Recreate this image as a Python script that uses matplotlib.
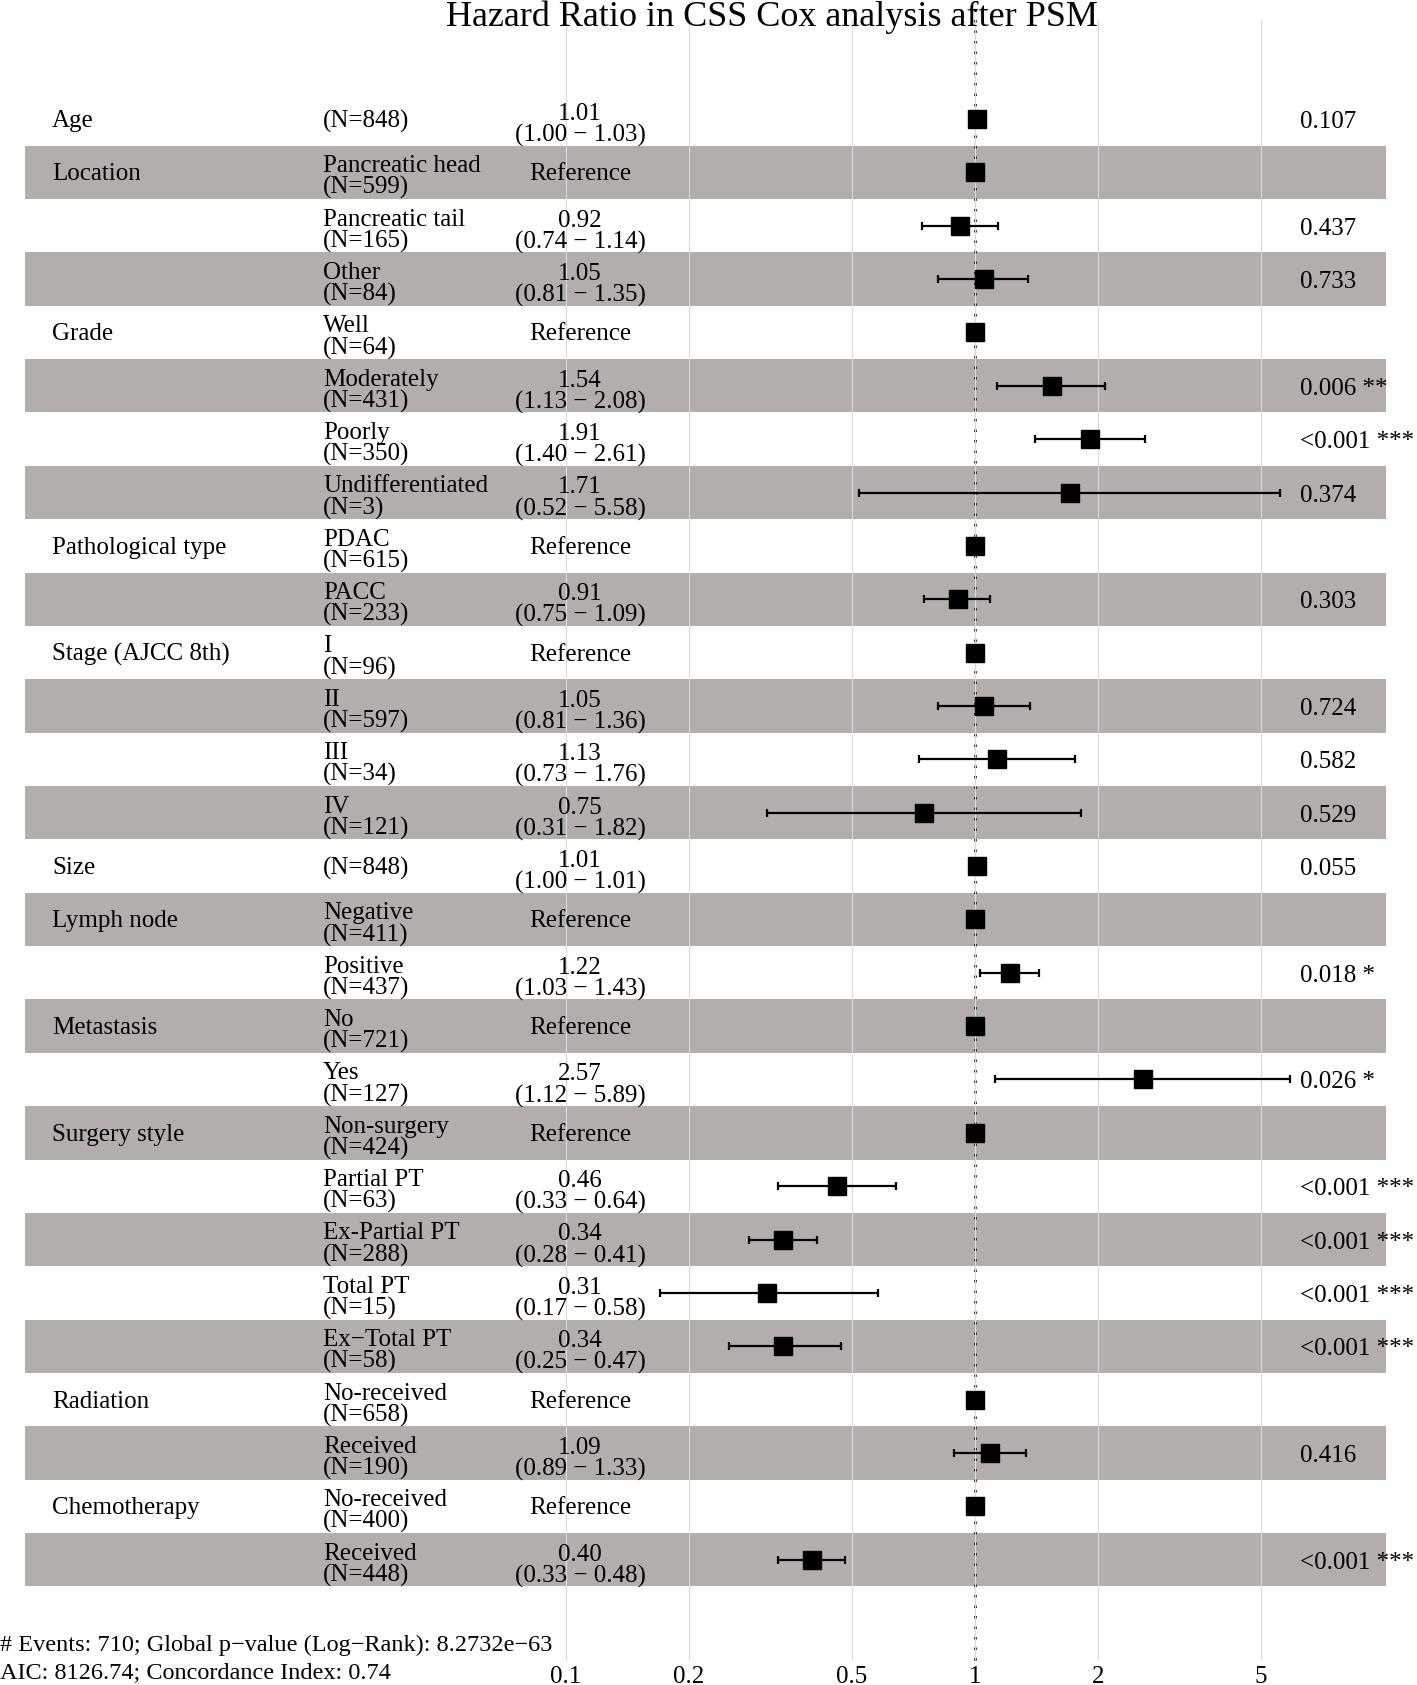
import numpy as np
import matplotlib
matplotlib.use('Agg')
import matplotlib.pyplot as plt

plt.rcParams['font.family'] = ['Liberation Serif', 'DejaVu Serif']

# ________DANE________________________________
variables = ['Age', 'Location', '', '', 'Grade', '', '', '', 'Pathological type', '',
             'Stage (AJCC 8th)', '', '', '', 'Size', 'Lymph node', '', 'Metastasis', '',
             'Surgery style', '', '', '', '', 'Radiation', '', 'Chemotherapy', '']
levels = ['', 'Pancreatic head', 'Pancreatic tail', 'Other', 'Well', 'Moderately', 'Poorly',
          'Undifferentiated', 'PDAC', 'PACC', 'I', 'II', 'III', 'IV', '', 'Negative', 'Positive',
          'No', 'Yes', 'Non-surgery', 'Partial PT', 'Ex-Partial PT', 'Total PT', 'Ex\u2212Total PT',
          'No-received', 'Received', 'No-received', 'Received']
n_obs = [848, 599, 165, 84, 64, 431, 350, 3, 615, 233, 96, 597, 34, 121, 848, 411, 437,
         721, 127, 424, 63, 288, 15, 58, 658, 190, 400, 448]
hr = [1.01, 1, 0.92, 1.05, 1, 1.54, 1.91, 1.71, 1, 0.91, 1, 1.05, 1.13, 0.75, 1.01, 1, 1.22,
      1, 2.57, 1, 0.46, 0.34, 0.31, 0.34, 1, 1.09, 1, 0.40]
ci_low = [1.00, None, 0.74, 0.81, None, 1.13, 1.40, 0.52, None, 0.75, None, 0.81, 0.73, 0.31,
          1.00, None, 1.03, None, 1.12, None, 0.33, 0.28, 0.17, 0.25, None, 0.89, None, 0.33]
ci_high = [1.03, None, 1.14, 1.35, None, 2.08, 2.61, 5.58, None, 1.09, None, 1.36, 1.76, 1.82,
           1.01, None, 1.43, None, 5.89, None, 0.64, 0.41, 0.58, 0.47, None, 1.33, None, 0.48]
p_values = ['0.107', '', '0.437', '0.733', '', '0.006 **', '<0.001 ***', '0.374', '', '0.303',
            '', '0.724', '0.582', '0.529', '0.055', '', '0.018 *', '', '0.026 *', '',
            '<0.001 ***', '<0.001 ***', '<0.001 ***', '<0.001 ***', '', '0.416', '', '<0.001 ***']
x_ticks = [0.1, 0.2, 0.5, 1, 2, 5]
title = 'Hazard Ratio in CSS Cox analysis after PSM'
footer = ['# Events: 710; Global p\u2212value (Log\u2212Rank): 8.2732e\u221263',
          'AIC: 8126.74; Concordance Index: 0.74']

# ________UKLAD_(piksele)________________________________
W, H = 1417, 1685
row_y0, row_h = 119, 53.36
rows_y = row_y0 + row_h * np.arange(len(hr))
stripe_color = '#B3AEAC'
fs = 18

fig = plt.figure(figsize=(W / 100, H / 100), dpi=100)

# ________WYKRES_LESNY_(skala_log)________________________________
top_px, bot_px = 20, 1660
fa = fig.add_axes([0, 1 - bot_px / H, 1, (bot_px - top_px) / H])
fa.patch.set_alpha(0)
px_per_dec = 409.0
x0_px = 566.0
fa.set_xscale('log')
fa.set_xlim(10 ** (-1 - x0_px / px_per_dec), 10 ** (-1 + (W - x0_px) / px_per_dec))
fa.set_ylim(bot_px, top_px)
for s in fa.spines.values():
    s.set_visible(False)
fa.set_yticks([])
fa.set_xticks(x_ticks)
fa.set_xticklabels([str(t) for t in x_ticks])
fa.xaxis.set_minor_locator(matplotlib.ticker.NullLocator())
fa.tick_params(axis='x', length=0, pad=4, labelsize=fs)
fa.set_axisbelow(False)
fa.grid(axis='x', color='#DADADA', linewidth=0.8, zorder=1)

# paski
for i, y in enumerate(rows_y):
    if i % 2 == 1:
        fa.axhspan(y - row_h / 2, y + row_h / 2, xmin=25 / W, xmax=1386 / W,
                   color=stripe_color, lw=0, zorder=0)

fa.axvline(1, ymin=0, ymax=1.01, color='black', linestyle=(0, (1.0, 3.2)), linewidth=1.8,
           clip_on=False, zorder=2)

hr_a = np.array(hr)
has_ci = np.array([c is not None for c in ci_low])
lo = np.array([c if c is not None else np.nan for c in ci_low])
hi = np.array([c if c is not None else np.nan for c in ci_high])
fa.errorbar(hr_a[has_ci], rows_y[has_ci],
            xerr=[hr_a[has_ci] - lo[has_ci], hi[has_ci] - hr_a[has_ci]],
            fmt='none', ecolor='black', elinewidth=1.6, capsize=2.6, capthick=1.6, zorder=3)
fa.plot(hr_a, rows_y, 's', color='black', markersize=13.5, zorder=4)

# ________TEKSTY________________________________
bg = fig.add_axes([0, 0, 1, 1])
bg.patch.set_alpha(0)
bg.set_xlim(0, W)
bg.set_ylim(H, 0)
bg.axis('off')

for i, y in enumerate(rows_y):
    if variables[i]:
        bg.text(52, y + 2, variables[i], fontsize=fs, va='center', ha='left')
    lvl = '(N={})'.format(n_obs[i]) if not levels[i] else '{}\n(N={})'.format(levels[i], n_obs[i])
    bg.text(323, y + (5 if levels[i] else 2), lvl, fontsize=fs, va='center', ha='left', linespacing=0.95)
    if ci_low[i] is None:
        est = 'Reference'
        dy = 2
    else:
        est = '{:.2f}\n({:.2f} \u2212 {:.2f})'.format(hr[i], ci_low[i], ci_high[i])
        dy = 6
    bg.text(580, y + dy, est, fontsize=fs, va='center', ha='center', linespacing=0.95)
    if p_values[i]:
        bg.text(1300, y + 3, p_values[i], fontsize=fs, va='center', ha='left')

bg.text(772, 26, title, fontsize=26, va='baseline', ha='center')
bg.text(0, 1645, footer[0], fontsize=17.5, va='center', ha='left')
bg.text(0, 1673, footer[1], fontsize=17.5, va='center', ha='left')

plt.savefig('out.png', dpi=100)
